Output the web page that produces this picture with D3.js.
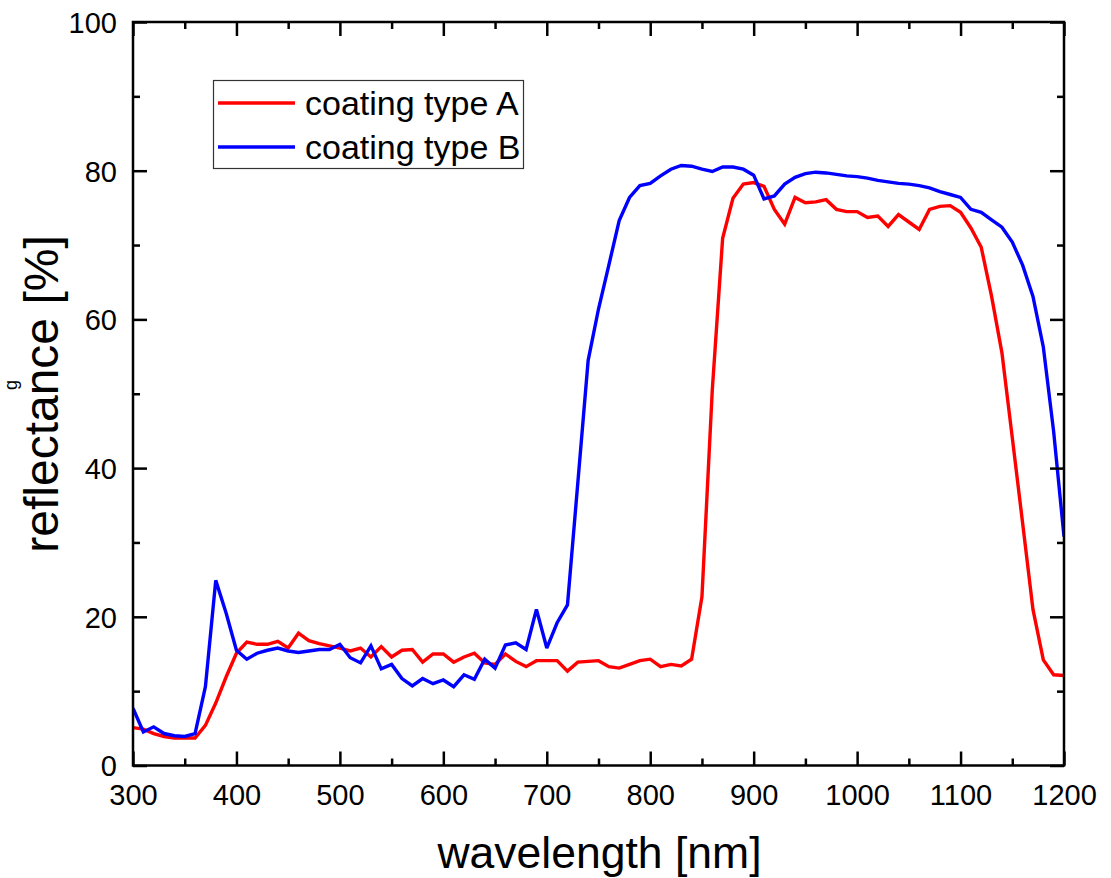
<!DOCTYPE html>
<html>
<head>
<meta charset="utf-8">
<script src="https://cdn.jsdelivr.net/npm/d3@7"></script>
<style>
  html, body { margin: 0; padding: 0; background: #fff; }
  svg { display: block; }
  text { font-family: "Liberation Sans", Arial, sans-serif; fill: #000; }
</style>
</head>
<body>
<svg id="chart" width="1111" height="878"></svg>
<script>
// ---- data ----
const wavelengths = d3.range(300, 1201, 10);
const coatingA = [
  5.1, 4.9, 4.3, 3.9, 3.7, 3.7, 3.7, 5.4, 8.4, 11.9,
  15.1, 16.6, 16.3, 16.3, 16.7, 15.8, 17.8, 16.8, 16.4, 16.1,
  15.8, 15.4, 15.8, 14.6, 16.0, 14.6, 15.5, 15.6, 13.9, 15.0,
  15.0, 13.9, 14.6, 15.1, 13.8, 13.6, 15.0, 14.0, 13.3, 14.1,
  14.1, 14.1, 12.7, 13.9, 14.0, 14.1, 13.3, 13.1, 13.6, 14.1,
  14.3, 13.3, 13.6, 13.4, 14.3, 22.7, 50.5, 70.9, 76.3, 78.2,
  78.4, 77.9, 74.8, 72.8, 76.4, 75.7, 75.8, 76.1, 74.8, 74.5,
  74.5, 73.7, 73.9, 72.5, 74.1, 73.1, 72.1, 74.8, 75.2, 75.3,
  74.4, 72.3, 69.7, 63.1, 55.5, 44.1, 32.6, 21.0, 14.2, 12.2,
  12.1
];
const coatingB = [
  7.7, 4.5, 5.2, 4.3, 4.0, 3.9, 4.3, 10.6, 24.9, 20.5,
  15.5, 14.3, 15.1, 15.5, 15.8, 15.4, 15.2, 15.4, 15.6, 15.6,
  16.3, 14.5, 13.8, 16.1, 13.0, 13.6, 11.7, 10.7, 11.7, 11.0,
  11.5, 10.6, 12.2, 11.6, 14.3, 13.1, 16.2, 16.5, 15.6, 21.0,
  15.8, 19.2, 21.6, 38.0, 54.5, 61.4, 67.3, 73.3, 76.4, 78.0,
  78.3, 79.3, 80.2, 80.7, 80.6, 80.2, 79.9, 80.5, 80.5, 80.2,
  79.4, 76.2, 76.6, 78.2, 79.1, 79.6, 79.8, 79.7, 79.5, 79.3,
  79.2, 79.0, 78.7, 78.5, 78.3, 78.2, 78.0, 77.7, 77.2, 76.8,
  76.4, 74.8, 74.4, 73.4, 72.4, 70.4, 67.3, 63.1, 56.3, 44.9,
  30.8
];
const seriesNames = ["coating type A", "coating type B"];
const seriesColors = ["#ff0000", "#0000ff"];
const xTicks = d3.range(300, 1201, 100);
const xMinorTicks = d3.range(350, 1200, 100);
const yTicks = [0, 20, 40, 60, 80, 100];
const yMinorTicks = [10, 30, 50, 70, 90];
const xTitle = "wavelength [nm]";
const yTitle = "reflectance [%]";

// ---- layout ----
const L = 133, R = 1064, T = 22, B = 765.5;
const svg = d3.select("#chart");
const x = d3.scaleLinear().domain([300, 1200]).range([L, R]);
const y = d3.scaleLinear().domain([0, 100]).range([B, T]);

svg.append("defs").append("clipPath").attr("id", "plotclip")
  .append("rect").attr("x", L).attr("y", T).attr("width", R - L).attr("height", B - T);

// lines
const series = [coatingA, coatingB];
const line = d3.line().x((d, i) => x(wavelengths[i])).y(d => y(d));
const g = svg.append("g").attr("clip-path", "url(#plotclip)");
series.forEach((s, k) => {
  g.append("path").datum(s)
    .attr("d", line)
    .attr("fill", "none")
    .attr("stroke", seriesColors[k])
    .attr("stroke-width", 3.4)
    .attr("stroke-linejoin", "miter")
    .attr("stroke-miterlimit", 3);
});

// axes (ticks pointing inward)
const tickStyle = sel => {
  sel.select(".domain").remove();
  sel.selectAll("line").attr("stroke", "#000").attr("stroke-width", 2.5);
  sel.selectAll("text").style("font-size", "29px").style("font-family", '"Liberation Sans", Arial, sans-serif');
};
// bottom
svg.append("g").attr("transform", `translate(0,${B})`)
  .call(d3.axisBottom(x).tickValues(xTicks).tickSize(-14).tickPadding(0).tickFormat(d3.format("d")))
  .call(tickStyle)
  .call(s => s.selectAll("text").attr("y", 0).attr("dy", 0).attr("transform", "translate(0,39)"));
svg.append("g").attr("transform", `translate(0,${B})`)
  .call(d3.axisBottom(x).tickValues(xMinorTicks).tickSize(-7).tickFormat(""))
  .call(tickStyle);
// top
svg.append("g").attr("transform", `translate(0,${T})`)
  .call(d3.axisTop(x).tickValues(xTicks).tickSize(-14).tickFormat(""))
  .call(tickStyle);
svg.append("g").attr("transform", `translate(0,${T})`)
  .call(d3.axisTop(x).tickValues(xMinorTicks).tickSize(-7).tickFormat(""))
  .call(tickStyle);
// left
svg.append("g").attr("transform", `translate(${L},0)`)
  .call(d3.axisLeft(y).tickValues(yTicks).tickSize(-14).tickPadding(16).tickFormat(d3.format("d")))
  .call(tickStyle)
  .call(s => s.selectAll("text").attr("x", -16).attr("dy", "0.36em"));
svg.append("g").attr("transform", `translate(${L},0)`)
  .call(d3.axisLeft(y).tickValues(yMinorTicks).tickSize(-7).tickFormat(""))
  .call(tickStyle);
// right
svg.append("g").attr("transform", `translate(${R},0)`)
  .call(d3.axisRight(y).tickValues(yTicks).tickSize(-14).tickFormat(""))
  .call(tickStyle);
svg.append("g").attr("transform", `translate(${R},0)`)
  .call(d3.axisRight(y).tickValues(yMinorTicks).tickSize(-7).tickFormat(""))
  .call(tickStyle);

// frame
svg.append("rect").attr("x", L).attr("y", T).attr("width", R - L).attr("height", B - T)
  .attr("fill", "none").attr("stroke", "#000").attr("stroke-width", 2.5);

// axis titles
svg.append("text").attr("x", (L + R) / 2 + 1).attr("y", 868)
  .attr("text-anchor", "middle").style("font-size", "44.5px").text(xTitle);
svg.append("text").attr("transform", `translate(58,394) rotate(-90)`)
  .attr("text-anchor", "middle").style("font-size", "48px").text(yTitle);
// small fragment near left edge
svg.append("text").attr("transform", "translate(17,390) rotate(-90)")
  .style("font-size", "18px").text("g");

// legend
const lg = svg.append("g");
lg.append("rect").attr("x", 213.5).attr("y", 80.5).attr("width", 310).attr("height", 88)
  .attr("fill", "#fff").attr("stroke", "#333").attr("stroke-width", 1.2);
seriesNames.forEach((n, k) => {
  const yy = 103 + k * 44;
  lg.append("line").attr("x1", 218).attr("x2", 295).attr("y1", yy).attr("y2", yy)
    .attr("stroke", seriesColors[k]).attr("stroke-width", 3.4);
  lg.append("text").attr("x", 305).attr("y", yy).attr("dy", "0.36em")
    .style("font-size", "34px").text(n);
});
</script>
</body>
</html>
